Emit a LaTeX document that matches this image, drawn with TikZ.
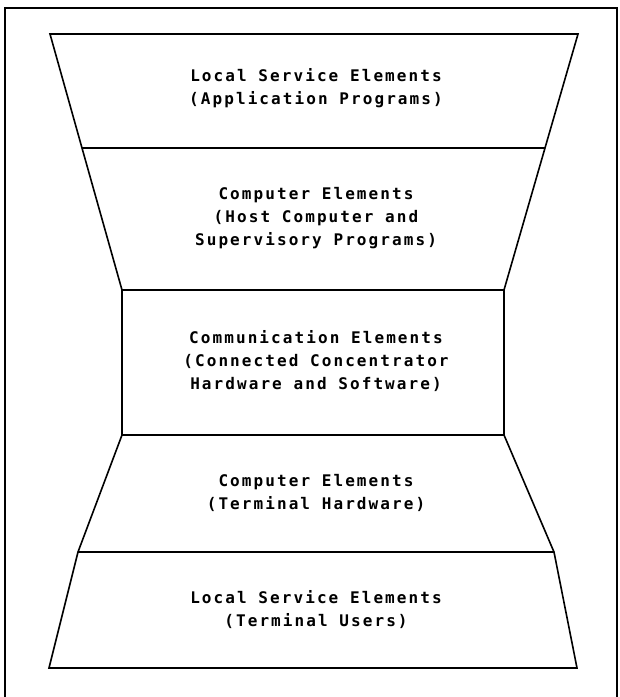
\documentclass[tikz,border=0pt]{standalone}
\usepackage{fontspec}
\setmonofont[LetterSpace=13]{DejaVu Sans Mono}
\usetikzlibrary{calc}

\begin{document}
\begin{tikzpicture}
	[x=1pt,y=-1pt,line width=1.6pt,line join=miter,
	 label/.style={font=\ttfamily\bfseries\fontsize{16}{23}\selectfont,align=center,inner sep=0pt}]

	\useasboundingbox (0,0) rectangle (620,697);

	% outer frame, open at the bottom
	\draw[line width=1.3pt] (5,697) -- (5,8) -- (617,8) -- (617,697);

	% corners of the hourglass
	\coordinate (tl) at (50,34);   \coordinate (tr) at (578,34);
	\coordinate (al) at (82,148);  \coordinate (ar) at (545,148);
	\coordinate (ml) at (122,290); \coordinate (mr) at (504,290);
	\coordinate (nl) at (122,435); \coordinate (nr) at (504,435);
	\coordinate (kl) at (78,552);  \coordinate (kr) at (554,552);
	\coordinate (bl) at (49,668);  \coordinate (br) at (577,668);

	\draw (tl) -- (tr) -- (ar) -- (mr) -- (nr) -- (kr) -- (br)
		-- (bl) -- (kl) -- (nl) -- (ml) -- (al) -- cycle;
	\draw (al) -- (ar);
	\draw (ml) -- (mr);
	\draw (nl) -- (nr);
	\draw (kl) -- (kr);

	% texts
	\node[label] (app) at (316,88) {Local Service Elements\\(Application Programs)};
	\node[label] (host) at (316,218) {Computer Elements\\(Host Computer and\\Supervisory Programs)};
	\node[label] (comm) at (316,361) {Communication Elements\\(Connected Concentrator\\Hardware and Software)};
	\node[label] (term) at (316,493) {Computer Elements\\(Terminal Hardware)};
	\node[label] (users) at (316,610) {Local Service Elements\\(Terminal Users)};

\end{tikzpicture}
\end{document}
